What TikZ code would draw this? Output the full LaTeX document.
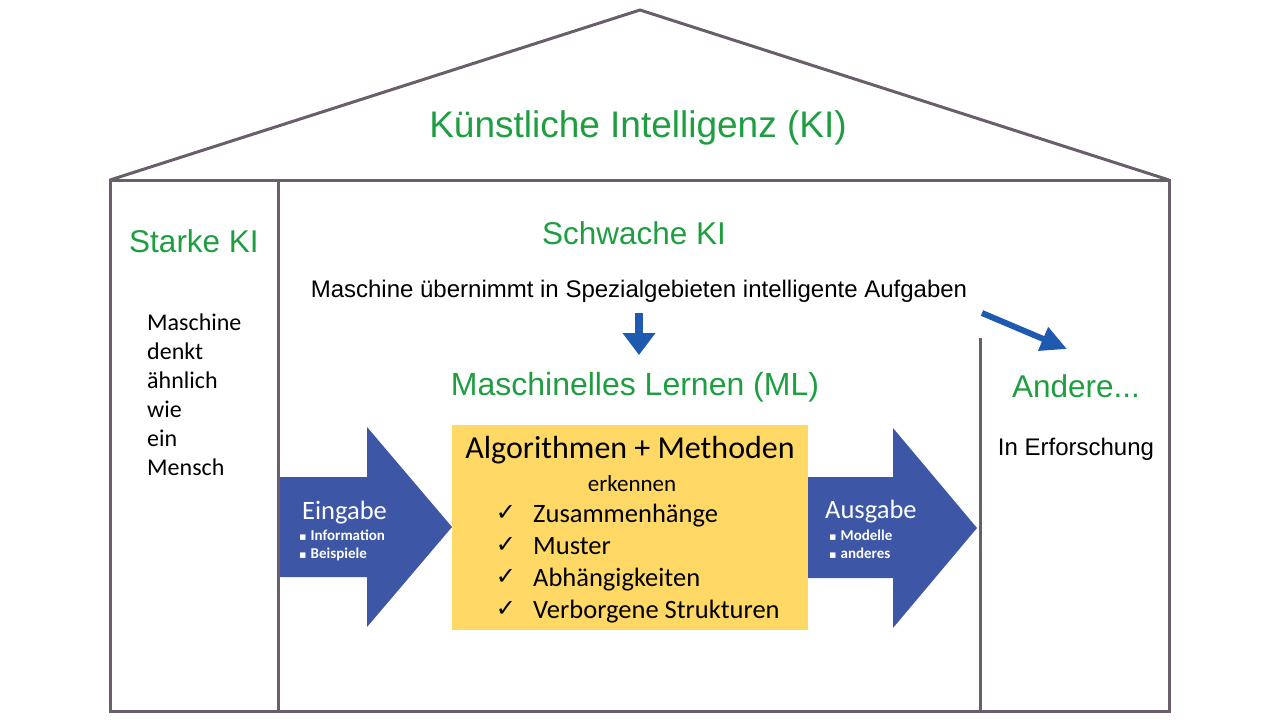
\documentclass[tikz,border=0pt]{standalone}
\usepackage{fontspec}
\setmainfont{Liberation Sans}
\newfontfamily\calibri{Carlito}
\newfontfamily\symfont{DejaVu Sans}
\usepackage{tikz}
\usetikzlibrary{arrows.meta,positioning,calc}
\definecolor{kigreen}{RGB}{30,158,64}
\definecolor{wallgray}{RGB}{105,94,105}
\definecolor{blockblue}{RGB}{61,86,166}
\definecolor{linkblue}{RGB}{30,90,175}
\definecolor{boxyellow}{RGB}{255,216,102}
\tikzset{
  wall/.style={draw=wallgray,line width=3,line join=miter},
  green/.style={text=kigreen,inner sep=0,anchor=base},
  plain/.style={text=black,inner sep=0},
  inarrow/.style={text=white,inner sep=0,anchor=base west,font=\calibri},
  link/.style={draw=linkblue,-{Triangle[length=#1]}}
}
\newcommand{\sq}{{\symfont\fontsize{11}{11}\selectfont ▪}\hspace{4pt}}
\begin{document}
\begin{tikzpicture}[x=1pt,y=-1pt]
\useasboundingbox (0,0) rectangle (1280,721);
% Eingabe and Ausgabe arrows
\fill[blockblue] (280,477) -- (367,477) -- (367,427) -- (452,527) -- (367,627) -- (367,577) -- (280,577) -- cycle;
\fill[blockblue] (808,477) -- (893,477) -- (893,428) -- (977,528) -- (893,628) -- (893,578) -- (808,578) -- cycle;
\node[fill=boxyellow,minimum width=356,minimum height=205,inner sep=0] (algo) at (630,527.5) {};
% house
\draw[wall] (110,180) -- (640,10) -- (1169,180);
\draw[wall] (110,180) rectangle (1169,711);
\draw[wall] (278,180) to (278,711);
\draw[wall] (980,338) to (980,711);
% titles
\node[green,font=\fontsize{37}{44}\selectfont] (ki) at (638,137) {Künstliche Intelligenz (KI)};
\node[green,font=\fontsize{31.5}{38}\selectfont] (stark) at (194,252) {Starke KI};
\node[green,font=\fontsize{31.5}{38}\selectfont] (schwach) at (634,244) {Schwache KI};
\node[plain,anchor=base,font=\fontsize{24}{29}\selectfont] (spez) at (639,297) {Maschine übernimmt in Spezialgebieten intelligente Aufgaben};
\node[green,font=\fontsize{32}{38}\selectfont] (ml) at (635,395) {Maschinelles Lernen (ML)};
\node[green,font=\fontsize{31.5}{38}\selectfont] (andere) at (1076,397) {Andere...};
\node[plain,anchor=base,font=\fontsize{24}{29}\selectfont] (forsch) at (1076,455) {In Erforschung};
% Starke KI text
\foreach \w [count=\i] in {Maschine,denkt,ähnlich,wie,ein,Mensch}
  \node[plain,anchor=base west,font=\calibri\fontsize{24}{29}\selectfont] (m\i) at (147,{330+(\i-1)*29}) {\w};
% arrows
\coordinate (d1) at (639,313);
\coordinate (d2) at (639,355);
\draw[link=22,line width=8] (d1) -- (d2);
\coordinate (e1) at (982,313);
\coordinate (e2) at (1067,349);
\draw[link=26,line width=6] (e1) -- (e2);
% box text
\node[plain,anchor=base,font=\calibri\fontsize{32}{38}\selectfont] (algt) at (630,458) {Algorithmen + Methoden};
\node[plain,anchor=base,font=\calibri\fontsize{23}{28}\selectfont] (erk) at (632,491) {erkennen};
\foreach \t [count=\i] in {Zusammenhänge,Muster,Abhängigkeiten,Verborgene Strukturen} {
  \node[plain,anchor=base,font=\symfont\fontsize{24}{28}\selectfont] (ck\i) at (506,{520+(\i-1)*32}) {✓};
  \node[plain,anchor=base west,font=\calibri\fontsize{26.5}{32}\selectfont] (c\i) at (533,{522+(\i-1)*32}) {\t};
}
% arrow text
\node[inarrow,font=\calibri\fontsize{26.5}{32}\selectfont] (ein) at (302,519) {Eingabe};
\node[inarrow,font=\calibri\bfseries\fontsize{15}{18}\selectfont] (ein1) at (299,540) {\sq Information};
\node[inarrow,font=\calibri\bfseries\fontsize{15}{18}\selectfont] (ein2) at (299,558) {\sq Beispiele};
\node[inarrow,font=\calibri\fontsize{26.5}{32}\selectfont] (aus) at (825,518) {Ausgabe};
\node[inarrow,font=\calibri\bfseries\fontsize{15}{18}\selectfont] (aus1) at (829,540) {\sq Modelle};
\node[inarrow,font=\calibri\bfseries\fontsize{15}{18}\selectfont] (aus2) at (829,558) {\sq anderes};
\end{tikzpicture}
\end{document}
